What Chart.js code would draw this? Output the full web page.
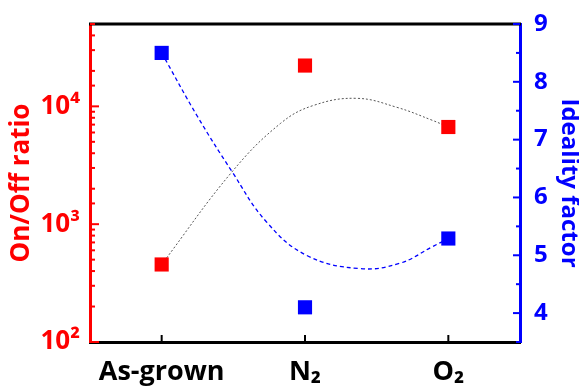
<!DOCTYPE html>
<html lang="en">
<head>
    <meta charset="UTF-8">
    <title>On/Off ratio and ideality factor</title>
    <script src="https://cdn.jsdelivr.net/npm/chart.js"></script>
    <style>
        html, body { margin: 0; padding: 0; background: #fff; }
        #wrap { width: 579px; height: 392px; }
    </style>
</head>
<body>
    <div id="wrap"><canvas id="grafica"></canvas></div>
    <script>
        // categories and measured values
        const categories = ['As-grown', 'N₂', 'O₂'];
        const categoryPos = [0, 1, 2];
        const onOffRatio = [455, 22200, 6680];
        const idealityFactor = [8.5, 4.1, 5.29];

        // guide curves
        const onOffCurveX = [0, 0.49, 0.83, 1.06, 1.36, 1.64, 1.89, 2];
        const onOffCurveY = [455, 2775, 7180, 10190, 11700, 9820, 7600, 6680];
        const idealCurveX = [0, 0.25, 0.49, 0.73, 1.01, 1.38, 1.66, 1.89, 2];
        const idealCurveY = [8.5, 7.4, 6.45, 5.58, 5.0, 4.77, 4.86, 5.15, 5.29];

        // tick labels
        const ratioTicks = [100, 1000, 10000];
        const ratioTickLabels = ['10²', '10³', '10⁴'];
        const idealTicks = [4, 5, 6, 7, 8, 9];

        const RED = '#ff0000';
        const BLUE = '#0000ff';
        const FONT = 'Open Sans';

        const pts = (xs, ys) => xs.map((x, i) => ({ x: x, y: ys[i] }));

        // tick marks pointing into the plot plus the top frame line
        const marcasInternas = {
            id: 'marcasInternas',
            afterDraw(chart) {
                const ctx = chart.ctx;
                const a = chart.chartArea;
                const sy = chart.scales.y, sy2 = chart.scales.y2, sx = chart.scales.x;
                ctx.save();
                ctx.lineCap = 'butt';

                ctx.strokeStyle = '#000';
                ctx.lineWidth = 3;
                ctx.beginPath();
                ctx.moveTo(a.left - 1, a.top);
                ctx.lineTo(a.right + 1, a.top);
                ctx.stroke();

                ctx.strokeStyle = RED;
                ctx.lineWidth = 2;
                sy.ticks.forEach(t => {
                    const p = sy.getPixelForValue(t.value);
                    const major = ratioTicks.includes(t.value);
                    ctx.beginPath();
                    ctx.moveTo(a.left, p);
                    ctx.lineTo(a.left + (major ? 9 : 5), p);
                    ctx.stroke();
                });

                ctx.strokeStyle = BLUE;
                sy2.ticks.forEach(t => {
                    const p = sy2.getPixelForValue(t.value);
                    const major = idealTicks.includes(t.value);
                    ctx.beginPath();
                    ctx.moveTo(a.right, p);
                    ctx.lineTo(a.right - (major ? 7 : 4), p);
                    ctx.stroke();
                });

                ctx.strokeStyle = '#000';
                categoryPos.forEach(v => {
                    const p = sx.getPixelForValue(v);
                    ctx.beginPath();
                    ctx.moveTo(p, a.bottom);
                    ctx.lineTo(p, a.bottom - 7);
                    ctx.stroke();
                });
                ctx.restore();
            }
        };

        new Chart(document.getElementById('grafica'), {
            type: 'scatter',
            data: {
                datasets: [
                    {
                        label: 'On/Off ratio',
                        data: pts(categoryPos, onOffRatio),
                        yAxisID: 'y',
                        pointStyle: 'rect',
                        pointRadius: 10,
                        backgroundColor: RED,
                        borderColor: RED,
                        borderWidth: 0,
                        showLine: false,
                        order: 0
                    },
                    {
                        label: 'Ideality factor',
                        data: pts(categoryPos, idealityFactor),
                        yAxisID: 'y2',
                        pointStyle: 'rect',
                        pointRadius: 10,
                        backgroundColor: BLUE,
                        borderColor: BLUE,
                        borderWidth: 0,
                        showLine: false,
                        order: 0
                    },
                    {
                        label: 'ratio curve',
                        data: pts(onOffCurveX, onOffCurveY),
                        yAxisID: 'y',
                        showLine: true,
                        pointRadius: 0,
                        borderColor: '#555',
                        borderWidth: 1,
                        borderDash: [2, 2],
                        tension: 0.4,
                        order: 1
                    },
                    {
                        label: 'ideality curve',
                        data: pts(idealCurveX, idealCurveY),
                        yAxisID: 'y2',
                        showLine: true,
                        pointRadius: 0,
                        borderColor: BLUE,
                        borderWidth: 1.3,
                        borderDash: [4, 3],
                        tension: 0.4,
                        order: 1
                    }
                ]
            },
            options: {
                responsive: true,
                maintainAspectRatio: false,
                animation: false,
                layout: { padding: { top: 24, left: 0, right: 0, bottom: 0 } },
                plugins: {
                    legend: { display: false },
                    tooltip: { enabled: false }
                },
                scales: {
                    x: {
                        type: 'linear',
                        min: -0.5,
                        max: 2.5,
                        afterBuildTicks: s => { s.ticks = categoryPos.map(v => ({ value: v })); },
                        afterFit: s => { s.height = 50; },
                        grid: { display: false },
                        border: { color: '#000', width: 3 },
                        ticks: {
                            color: '#000',
                            padding: 6,
                            font: { family: FONT, size: 27, weight: 'bold' },
                            callback: v => categories[categoryPos.indexOf(v)] ?? ''
                        }
                    },
                    y: {
                        type: 'logarithmic',
                        position: 'left',
                        min: 100,
                        max: 50000,
                        afterFit: s => { s.width = 90; },
                        grid: { display: false },
                        border: { color: RED, width: 3 },
                        title: {
                            display: true,
                            text: 'On/Off ratio',
                            color: RED,
                            padding: { top: 6, bottom: 0 },
                            font: { family: FONT, size: 26, weight: 'bold' }
                        },
                        ticks: {
                            color: RED,
                            padding: 2,
                            autoSkip: false,
                            font: { family: FONT, size: 26, weight: 'bold' },
                            callback: v => {
                                const i = ratioTicks.indexOf(v);
                                return i >= 0 ? ratioTickLabels[i] : '';
                            }
                        }
                    },
                    y2: {
                        type: 'linear',
                        position: 'right',
                        min: 3.5,
                        max: 9,
                        afterFit: s => { s.width = 59; },
                        grid: { display: false },
                        border: { color: BLUE, width: 3 },
                        title: {
                            display: true,
                            text: 'Ideality factor',
                            color: BLUE,
                            padding: { top: -2, bottom: 0 },
                            font: { family: FONT, size: 24, weight: 'bold', lineHeight: 1 }
                        },
                        ticks: {
                            color: BLUE,
                            stepSize: 0.5,
                            padding: 6,
                            autoSkip: false,
                            font: { family: FONT, size: 24, weight: 'bold' },
                            callback: v => idealTicks.includes(v) ? String(v) : ''
                        }
                    }
                }
            },
            plugins: [marcasInternas]
        });
    </script>
</body>
</html>
